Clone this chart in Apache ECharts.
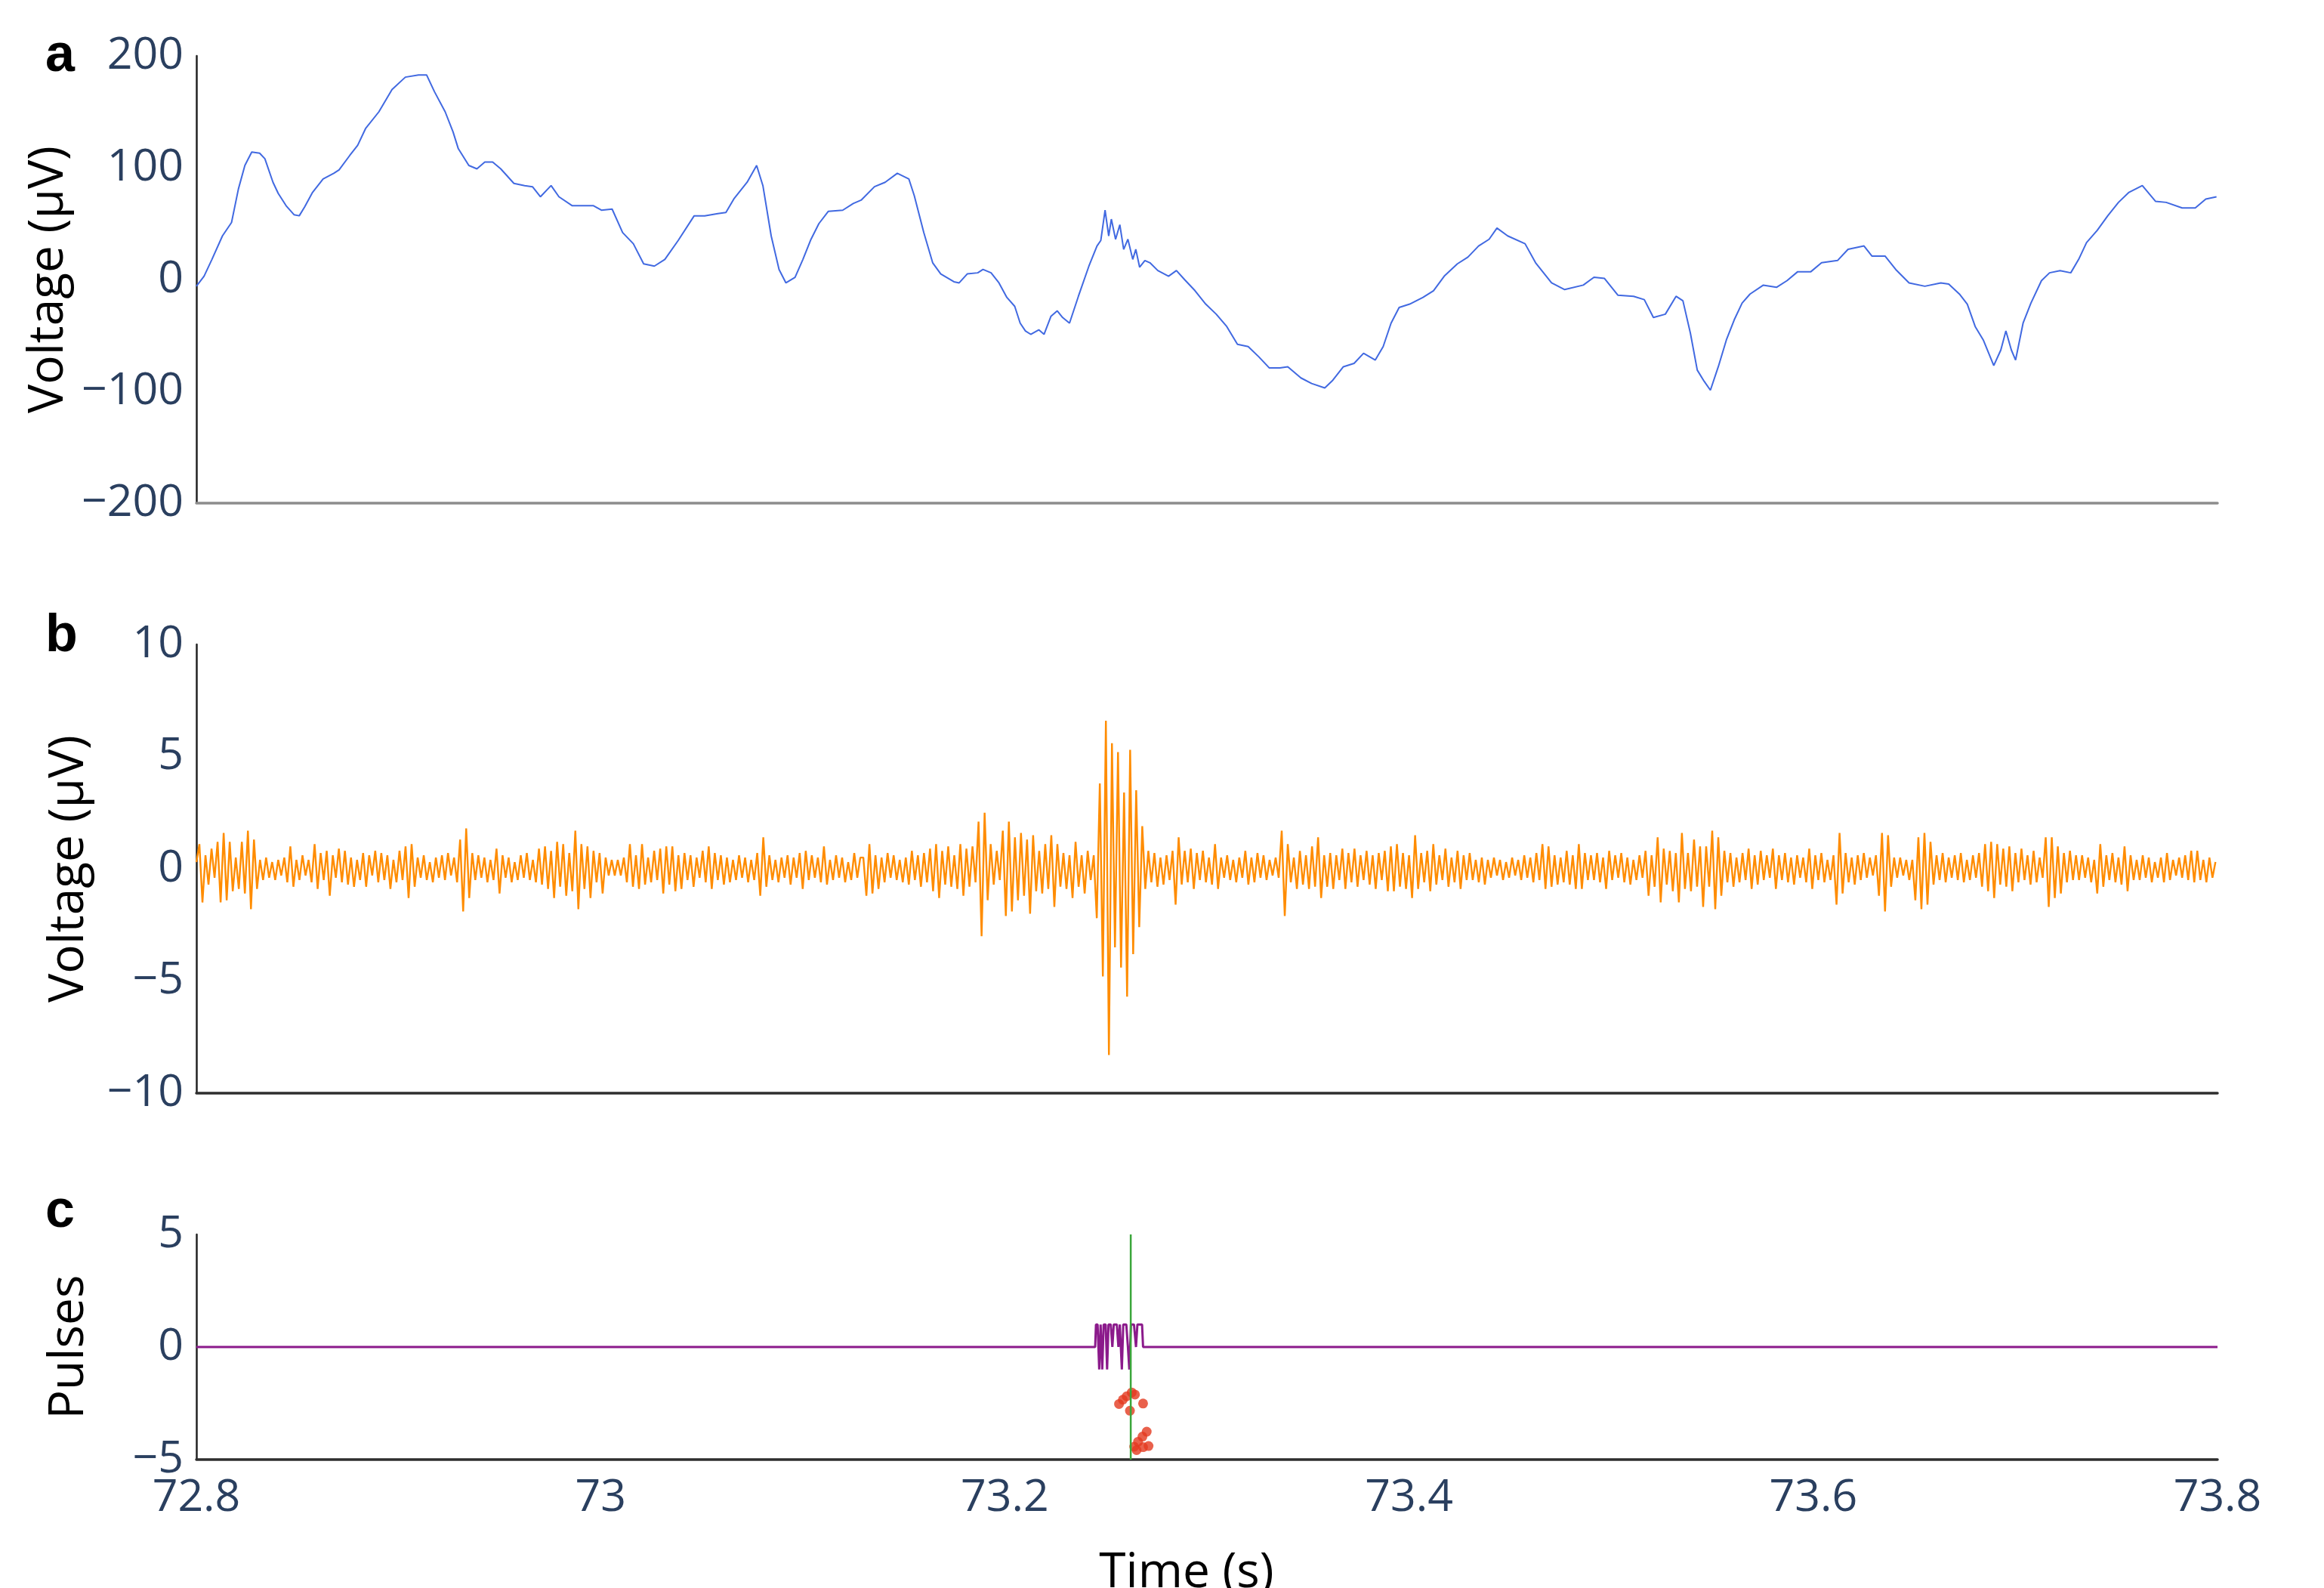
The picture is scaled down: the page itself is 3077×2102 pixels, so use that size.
<!DOCTYPE html>
<html lang="en">
<head>
<meta charset="UTF-8">
<title>Raw EEG, filtered band and stimulation pulses</title>
<style>
  html, body { margin: 0; padding: 0; background: #fff; }
  #chart { width: 3077px; height: 2102px; }
</style>
<script src="https://cdn.jsdelivr.net/npm/echarts@6/dist/echarts.min.js"></script>
</head>
<body>
<div id="chart"></div>
<script>
// ---- data ----
// panel a: raw trace, [time (s), voltage (uV)]
var rawPoints = [
  [72.8000,-6],[72.8038,3],[72.8077,18],[72.8129,39],[72.8174,51],[72.8208,81],[72.8240,102],[72.8274,114],
  [72.8313,113],[72.8339,108],[72.8379,87],[72.8405,77],[72.8444,66],[72.8483,58],[72.8509,57],[72.8536,65],
  [72.8575,78],[72.8627,90],[72.8680,95],[72.8706,98],[72.8759,111],[72.8798,120],[72.8837,135],[72.8903,150],
  [72.8968,170],[72.9034,181],[72.9099,183],[72.9139,183],[72.9178,168],[72.9231,150],[72.9270,132],[72.9296,117],
  [72.9348,102],[72.9388,99],[72.9427,105],[72.9466,105],[72.9506,99],[72.9571,86],[72.9624,84],[72.9663,83],
  [72.9702,74],[72.9755,84],[72.9794,74],[72.9860,66],[72.9912,66],[72.9965,66],[73.0004,62],[73.0057,63],
  [73.0109,42],[73.0162,32],[73.0213,14],[73.0266,12],[73.0318,18],[73.0384,35],[73.0463,57],[73.0515,57],
  [73.0580,59],[73.0620,60],[73.0659,72],[73.0725,87],[73.0772,102],[73.0803,84],[73.0844,39],[73.0883,9],
  [73.0917,-3],[73.0962,2],[73.1001,18],[73.1041,36],[73.1080,50],[73.1127,61],[73.1198,62],[73.1250,68],
  [73.1289,71],[73.1355,83],[73.1408,87],[73.1468,95],[73.1525,90],[73.1552,75],[73.1599,42],[73.1643,15],
  [73.1683,5],[73.1748,-2],[73.1774,-3],[73.1814,5],[73.1866,6],[73.1892,9],[73.1932,6],[73.1971,-3],
  [73.2010,-16],[73.2049,-24],[73.2076,-39],[73.2102,-46],[73.2128,-49],[73.2168,-45],[73.2194,-49],[73.2228,-33],
  [73.2259,-28],[73.2286,-34],[73.2320,-39],[73.2364,-15],[73.2416,12],[73.2456,30],[73.2475,35],[73.2496,62],
  [73.2514,39],[73.2527,54],[73.2548,36],[73.2569,49],[73.2588,27],[73.2609,36],[73.2633,18],[73.2648,27],
  [73.2667,11],[73.2693,17],[73.2718,15],[73.2757,8],[73.2810,3],[73.2849,8],[73.2889,0],[73.2941,-10],
  [73.2994,-22],[73.3046,-31],[73.3098,-42],[73.3151,-58],[73.3204,-60],[73.3256,-69],[73.3308,-79],[73.3361,-79],
  [73.3400,-78],[73.3465,-88],[73.3518,-93],[73.3583,-97],[73.3623,-90],[73.3675,-78],[73.3728,-75],[73.3775,-66],
  [73.3833,-72],[73.3872,-60],[73.3911,-39],[73.3951,-25],[73.4003,-22],[73.4069,-16],[73.4121,-10],[73.4174,3],
  [73.4239,14],[73.4291,20],[73.4344,30],[73.4396,36],[73.4435,46],[73.4488,39],[73.4574,32],[73.4626,15],
  [73.4705,-3],[73.4770,-9],[73.4862,-5],[73.4915,2],[73.4967,1],[73.5033,-14],[73.5111,-15],[73.5164,-18],
  [73.5209,-34],[73.5268,-31],[73.5321,-15],[73.5355,-19],[73.5392,-48],[73.5426,-81],[73.5460,-91],[73.5491,-99],
  [73.5530,-78],[73.5570,-54],[73.5609,-36],[73.5648,-21],[73.5687,-13],[73.5753,-5],[73.5818,-7],[73.5870,-1],
  [73.5923,7],[73.5988,7],[73.6041,15],[73.6120,17],[73.6172,27],[73.6251,30],[73.6290,21],[73.6355,21],
  [73.6408,9],[73.6474,-3],[73.6552,-6],[73.6631,-3],[73.6670,-4],[73.6723,-13],[73.6762,-22],[73.6801,-42],
  [73.6841,-54],[73.6893,-77],[73.6928,-63],[73.6953,-46],[73.6980,-63],[73.7001,-72],[73.7038,-39],[73.7077,-21],
  [73.7129,-1],[73.7169,6],[73.7221,8],[73.7274,6],[73.7313,18],[73.7352,33],[73.7405,44],[73.7457,57],
  [73.7510,69],[73.7562,78],[73.7628,84],[73.7693,70],[73.7746,69],[73.7825,64],[73.7890,64],[73.7942,72],
  [73.7995,74]
];

// panel b: filtered trace, one value per sample (uV)
var filtStart = 72.8;
var filtStep = 0.0015;
var filtValues = [
  0.3,1.1,-1.5,0.6,-0.7,0.9,-0.4,1.2,-1.5,1.6,-1.4,1.2,-1.0,0.5,-0.9,1.2,-1.1,1.7,-1.8,1.3,
  -0.9,0.4,-0.5,0.5,-0.4,0.3,-0.5,0.4,-0.3,0.5,-0.6,1.0,-0.8,0.4,-0.5,0.6,-0.3,0.4,-0.6,1.1,
  -0.9,0.7,-0.5,0.8,-1.2,0.6,-0.4,0.9,-0.6,0.8,-0.7,0.5,-0.8,0.4,-0.5,0.7,-0.8,0.6,-0.3,0.8,
  -0.6,0.7,-0.5,0.6,-0.9,0.4,-0.6,0.8,-0.5,1.0,-1.3,1.1,-0.8,0.5,-0.4,0.6,-0.5,0.3,-0.6,0.5,
  -0.4,0.6,-0.5,0.7,-0.3,0.5,-0.6,1.3,-1.9,1.8,-1.3,0.7,-0.5,0.6,-0.4,0.5,-0.6,0.4,-0.5,0.9,
  -1.1,0.6,-0.4,0.5,-0.6,0.3,-0.5,0.6,-0.4,0.7,-0.5,0.4,-0.6,0.9,-0.7,1.0,-0.9,0.8,-1.3,1.2,
  -0.8,1.1,-1.2,0.7,-1.0,1.7,-1.8,1.1,-0.9,1.0,-1.3,0.8,-0.6,0.7,-1.1,0.5,-0.3,0.4,-0.3,0.4,
  -0.3,0.5,-0.6,1.1,-0.8,0.6,-0.9,1.1,-0.7,0.5,-0.6,0.8,-0.5,0.9,-1.1,1.0,-0.7,1.0,-1.0,0.6,
  -0.9,0.7,-0.5,0.6,-0.8,0.5,-0.4,0.8,-0.6,1.0,-0.9,0.7,-0.5,0.6,-0.7,0.5,-0.6,0.4,-0.5,0.6,
  -0.4,0.5,-0.6,0.4,-0.5,0.7,-1.2,1.4,-0.8,0.6,-0.5,0.4,-0.6,0.5,-0.4,0.6,-0.7,0.5,-0.4,0.7,
  -0.9,0.8,-0.5,0.6,-0.4,0.5,-0.6,1.0,-0.7,0.4,-0.5,0.6,-0.4,0.5,-0.6,0.3,-0.5,0.7,-0.4,0.5,
  0.5,-1.2,1.1,-1.1,0.6,-0.9,0.5,-0.6,0.7,-0.4,0.6,-0.5,0.4,-0.6,0.5,-0.7,0.8,-0.5,0.6,-0.8,
  0.7,-0.6,0.9,-1.0,1.1,-1.3,0.8,-0.7,1.0,-0.8,0.6,-0.9,1.1,-1.2,0.9,-0.8,1.0,-0.6,2.1,-3.0,
  2.5,-1.4,1.1,-0.7,0.8,-0.5,1.7,-2.1,2.1,-1.9,1.4,-1.4,1.6,-1.2,1.3,-2.0,1.5,-1.0,0.8,-1.1,
  1.1,-0.9,1.5,-1.7,1.1,-0.8,0.7,-0.9,0.6,-1.3,1.2,-0.8,0.6,-1.1,0.8,-0.5,0.6,-2.2,3.8,-4.8,
  6.6,-8.3,5.6,-3.5,5.2,-4.4,3.4,-5.7,5.3,-3.8,3.5,-2.6,1.9,-0.9,0.8,-0.6,0.7,-0.8,0.5,-0.7,
  0.6,-0.5,0.8,-1.6,1.4,-0.7,0.8,-0.6,0.9,-0.9,0.7,-0.5,0.8,-0.6,0.5,-0.7,1.1,-0.9,0.5,-0.4,
  0.6,-0.5,0.4,-0.6,0.5,-0.4,0.8,-0.7,0.5,-0.6,0.7,-0.4,0.6,-0.5,0.4,-0.3,0.5,-0.4,1.7,-2.1,
  1.1,-0.6,0.5,-0.9,0.8,-0.7,0.6,-0.9,1.0,-0.8,1.4,-1.3,0.6,-0.8,0.7,-0.9,0.6,-0.5,0.9,-0.9,
  0.7,-0.6,0.9,-0.8,0.6,-0.5,0.8,-0.7,0.6,-0.9,0.7,-0.5,0.8,-1.0,1.0,-1.0,1.1,-0.8,0.7,-0.9,
  0.6,-1.3,1.5,-0.9,0.7,-0.6,0.8,-1.0,1.1,-0.7,0.6,-0.5,0.9,-0.8,0.5,-0.6,0.8,-0.9,0.6,-0.5,
  0.7,-0.5,0.4,-0.6,0.5,-0.7,0.4,-0.4,0.5,-0.3,0.4,-0.5,0.3,-0.4,0.5,-0.3,0.4,-0.5,0.6,-0.4,
  0.5,-0.6,0.7,-0.5,1.1,-0.9,1.0,-0.8,0.6,-0.7,0.5,-0.6,0.8,-0.7,0.6,-0.9,1.1,-0.9,0.7,-0.5,
  0.6,-0.5,0.7,-0.6,0.5,-0.9,0.8,-0.5,0.6,-0.4,0.7,-0.6,0.5,-0.7,0.4,-0.5,0.6,-0.4,0.8,-1.2,
  0.6,-0.8,1.4,-1.5,0.9,-0.7,0.8,-1.0,0.7,-1.5,1.6,-0.9,0.7,-1.0,1.3,-0.8,1.0,-1.7,1.0,-0.8,
  1.7,-1.8,1.4,-1.2,0.8,-0.6,0.7,-0.8,0.5,-0.6,0.7,-0.5,0.9,-0.9,0.6,-0.7,0.8,-0.5,0.6,-0.4,
  0.9,-0.9,0.6,-0.5,0.7,-0.6,0.5,-0.7,0.6,-0.4,0.5,-0.6,0.9,-0.9,0.6,-0.5,0.7,-0.6,0.4,-0.5,
  0.6,-1.6,1.6,-1.1,0.7,-0.6,0.5,-0.7,0.6,-0.5,0.7,-0.4,0.5,-0.3,0.6,-1.2,1.6,-1.9,1.5,-0.8,
  0.5,-0.4,0.5,-0.3,0.4,-0.5,0.4,-1.4,1.4,-1.8,1.6,-1.6,1.2,-0.7,0.6,-0.5,0.7,-0.6,0.5,-0.4,
  0.6,-0.5,0.7,-0.6,0.4,-0.5,0.6,-0.4,0.7,-0.8,1.1,-1.0,1.2,-1.3,1.1,-0.7,0.9,-0.8,1.0,-1.0,
  0.7,-0.6,0.9,-0.5,0.6,-0.7,0.8,-0.6,0.5,-0.4,1.4,-1.7,1.4,-1.3,1.0,-1.1,0.7,-0.6,0.8,-0.5,
  0.6,-0.5,0.6,-0.4,0.5,-0.6,0.4,-1.1,1.1,-0.8,0.6,-0.5,0.7,-0.6,0.5,-0.7,1.0,-1.0,0.6,-0.5,
  0.4,-0.5,0.6,-0.4,0.5,-0.6,0.3,-0.4,0.5,-0.6,0.7,-0.5,0.4,-0.3,0.5,-0.4,0.6,-0.5,0.8,-0.6,
  0.8,-0.5,0.4,-0.6,0.5,-0.4,0.3
];

// panel c: stimulation pulse train, detection time and detected peaks
var pulseTimes = [72.8,73.2447,73.2451,73.2459,73.2467,73.2474,73.2482,73.2489,73.2499,73.2506,
  73.2513,73.2524,73.2532,73.2539,73.2554,73.2562,73.2569,73.2579,73.2586,73.2601,73.2609,
  73.2616,73.2624,73.2639,73.2649,73.2656,73.2679,73.2684,73.8];
var pulseValues = [0,0,1,1,-1,1,-1,1,1,-1,1,1,0,1,1,0,1,-1,1,1,0,-1,1,1,0,1,1,0,0];
var stimTime = 73.2623;
var peakTimes = [73.2565,73.2584,73.2603,73.2628,73.2644,73.2684,73.2619,
  73.2640,73.2659,73.2681,73.2702,73.2652,73.2684,73.2711];
var peakValues = [-2.53,-2.34,-2.19,-2.02,-2.11,-2.51,-2.83,
  -4.43,-4.21,-3.98,-3.76,-4.58,-4.45,-4.40];

var timeMin = 72.8, timeMax = 73.8, timeStep = 0.2;

// ---- chart ----
var tickColor = '#2a3f5f';
var font = 'Open Sans';

var filtPoints = filtValues.map(function (v, i) {
  return [filtStart + i * filtStep, v];
});
var pulsePoints = pulseTimes.map(function (t, i) { return [t, pulseValues[i]]; });
var peakPoints = peakTimes.map(function (t, i) { return [t, peakValues[i]]; });

function minusSign(v) {
  return String(v).replace('-', '\u2212');
}

var grids = [
  { left: 260, width: 2676, top: 74, height: 592 },
  { left: 260, width: 2676, top: 853, height: 594 },
  { left: 260, width: 2676, top: 1634, height: 298 }
];

var xAxes = grids.map(function (g, i) {
  return {
    type: 'value', gridIndex: i,
    min: timeMin, max: timeMax, interval: timeStep,
    axisLine: { show: true, onZero: false,
      lineStyle: { color: i === 0 ? '#8c8c8c' : '#2e2e2e', width: 3.5 } },
    axisTick: { show: false },
    splitLine: { show: false },
    axisLabel: {
      show: i === 2, fontSize: 59, color: tickColor, fontFamily: font, margin: 22,
      formatter: function (v) { return String(+v.toFixed(1)); }
    }
  };
});

function yAxis(i, min, max, step, name) {
  return {
    type: 'value', gridIndex: i, min: min, max: max, interval: step,
    axisLine: { show: true, onZero: false, lineStyle: { color: '#222', width: 2.5 } },
    axisTick: { show: false },
    splitLine: { show: false },
    axisLabel: { fontSize: 59, color: tickColor, fontFamily: font, margin: 17, formatter: minusSign },
    name: name, nameLocation: 'middle', nameGap: 136,
    nameTextStyle: { fontSize: 64, color: '#000', fontFamily: font }
  };
}

var chart = echarts.init(document.getElementById('chart'), null, { renderer: 'canvas' });

chart.setOption({
  animation: false,
  backgroundColor: '#fff',
  grid: grids,
  xAxis: xAxes,
  yAxis: [
    yAxis(0, -200, 200, 100, 'Voltage (µV)'),
    yAxis(1, -10, 10, 5, 'Voltage (µV)'),
    yAxis(2, -5, 5, 5, 'Pulses')
  ],
  series: [
    { type: 'line', xAxisIndex: 0, yAxisIndex: 0, data: rawPoints, showSymbol: false, silent: true,
      lineStyle: { color: '#4169e1', width: 2 } },
    { type: 'line', xAxisIndex: 1, yAxisIndex: 1, data: filtPoints, showSymbol: false, silent: true,
      lineStyle: { color: '#ff8c00', width: 2.4 } },
    { type: 'line', xAxisIndex: 2, yAxisIndex: 2, data: pulsePoints, showSymbol: false, silent: true,
      lineStyle: { color: '#8b1a8b', width: 3 } },
    { type: 'line', xAxisIndex: 2, yAxisIndex: 2, data: [[stimTime, 5], [stimTime, -5]],
      showSymbol: false, silent: true, lineStyle: { color: '#3aa63a', width: 2.5 } },
    { type: 'scatter', xAxisIndex: 2, yAxisIndex: 2, data: peakPoints, symbolSize: 13, silent: true,
      itemStyle: { color: '#e3391f' } }
  ],
  graphic: [
    { type: 'text', left: 60, top: 40, style: { text: 'a', fontSize: 70, fontWeight: 'bold',
      fontFamily: 'Liberation Sans', fill: '#000' } },
    { type: 'text', left: 60, top: 808, style: { text: 'b', fontSize: 70, fontWeight: 'bold',
      fontFamily: 'Liberation Sans', fill: '#000' } },
    { type: 'text', left: 60, top: 1570, style: { text: 'c', fontSize: 70, fontWeight: 'bold',
      fontFamily: 'Liberation Sans', fill: '#000' } },
    { type: 'text', x: 1571, y: 2083, style: { text: 'Time (s)', fontSize: 64, fontFamily: font,
      fill: '#000', align: 'center', verticalAlign: 'middle' } }
  ]
});
</script>
</body>
</html>
